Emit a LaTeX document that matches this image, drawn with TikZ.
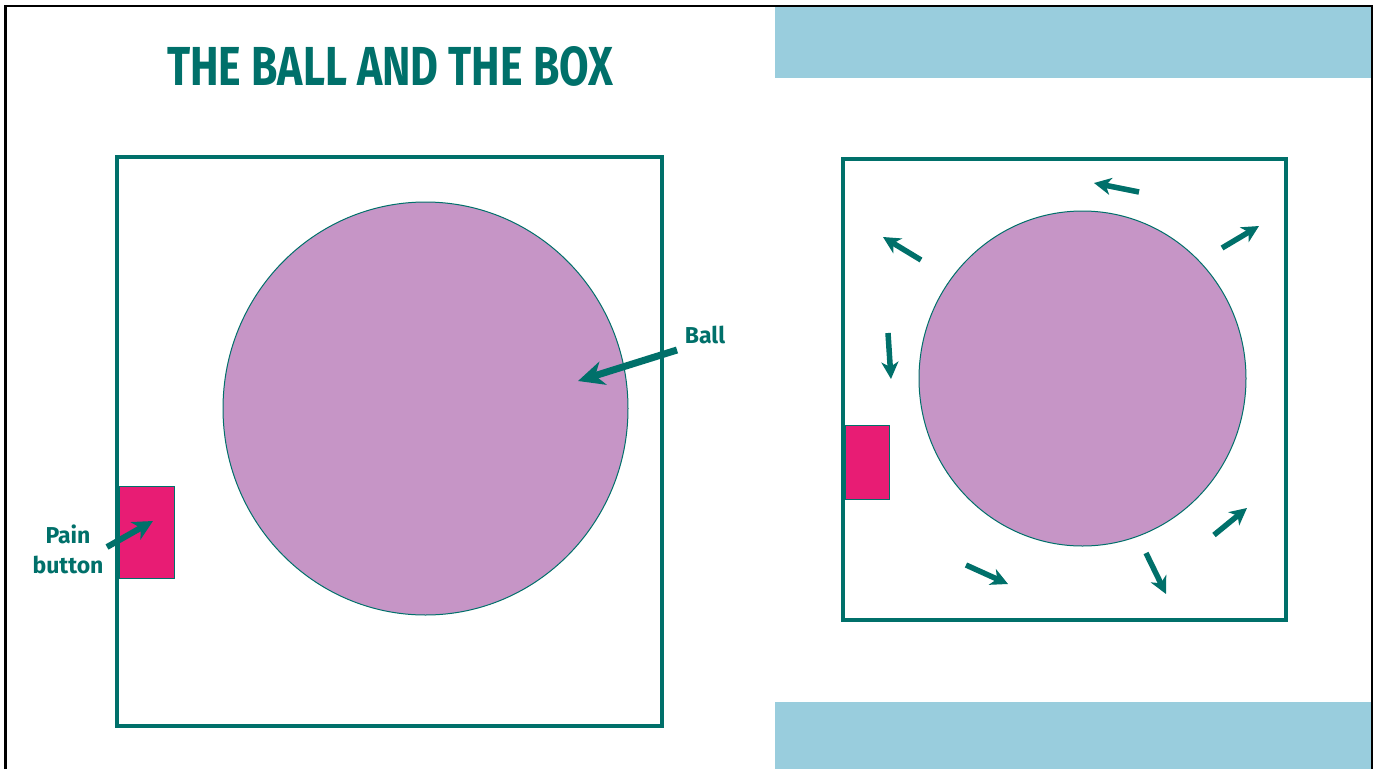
\documentclass[tikz,border=0pt]{standalone}
\usepackage{fontspec}
\setmainfont{Fira Sans}
\usetikzlibrary{arrows.meta,shapes.geometric}
\definecolor{teal}{RGB}{0,112,106}
\definecolor{ballfill}{RGB}{198,149,198}
\definecolor{btnpink}{RGB}{232,28,116}
\definecolor{band}{RGB}{153,205,221}
\tikzset{
  boxframe/.style={draw=teal,line width=4pt},
  ballshape/.style={draw=teal,line width=1pt,fill=ballfill},
  btn/.style={draw=teal,line width=1pt,fill=btnpink},
  lbl/.style={text=teal,font=\fontsize{23}{30}\selectfont\bfseries,align=center,inner sep=0pt},
  bigarrow/.style={draw=teal,line width=7pt,-{Stealth[length=26pt,width=24pt,inset=8pt]}},
  midarrow/.style={draw=teal,line width=6pt,-{Stealth[length=20pt,width=20pt,inset=6pt]}},
  smallarrow/.style={draw=teal,line width=5.5pt,-{Stealth[length=17pt,width=17pt,inset=5pt]}},
}
\begin{document}
\begin{tikzpicture}[x=1pt,y=-1pt]
\useasboundingbox (0,0) rectangle (1377,769);
\fill[white] (0,0) rectangle (1377,769);
% blue bands
\fill[band] (775,7) rectangle (1372,78);
\fill[band] (775,702) rectangle (1372,769);
% outer black frame (no bottom)
\draw[black,line width=2.5pt] (5.5,769) -- (5.5,6) -- (1372,6) -- (1372,769);
% title
\node[anchor=south west,inner sep=0pt,text=teal] (title) at (167,87)
  {\resizebox{446pt}{39pt}{\bfseries THE BALL AND THE BOX}};
% left panel
\draw[boxframe] (116.5,156.5) rectangle (662,725.5);
\node[btn,rectangle,minimum width=55pt,minimum height=92pt,inner sep=0pt,anchor=north west] (btnL) at (119,486) {};
\node[ballshape,ellipse,minimum width=405pt,minimum height=413pt,inner sep=0pt] (ballL) at (425.5,408.5) {};
\node[lbl,anchor=base] (balltxt) at (705,343) {Ball};
\node[lbl,anchor=base] (paintxt) at (68,573) {Pain\\button};
\coordinate (ballTail) at (677,350);
\coordinate (ballTip) at (578,381);
\coordinate (painTail) at (107,547);
\coordinate (painTip) at (153,521);
\draw[bigarrow] (ballTail) -- (ballTip);
\draw[midarrow] (painTail) -- (painTip);
% right panel
\draw[boxframe] (843,159) rectangle (1286,620);
\node[btn,rectangle,minimum width=44pt,minimum height=74pt,inner sep=0pt,anchor=north west] (btnR) at (845,425) {};
\node[ballshape,ellipse,minimum width=327pt,minimum height=335pt,inner sep=0pt] (ballR) at (1082.5,378.5) {};
\coordinate (a1t) at (1139,192); \coordinate (a1h) at (1094,183);
\coordinate (a2t) at (921,260);  \coordinate (a2h) at (883,237);
\coordinate (a3t) at (1222,248); \coordinate (a3h) at (1259,226);
\coordinate (a4t) at (888,333);  \coordinate (a4h) at (891,379);
\coordinate (a5t) at (966,565);  \coordinate (a5h) at (1008,584);
\coordinate (a6t) at (1146,553); \coordinate (a6h) at (1166,594);
\coordinate (a7t) at (1214,535); \coordinate (a7h) at (1247,508);
\foreach \i in {1,...,7} \draw[smallarrow] (a\i t) -- (a\i h);
\end{tikzpicture}
\end{document}
